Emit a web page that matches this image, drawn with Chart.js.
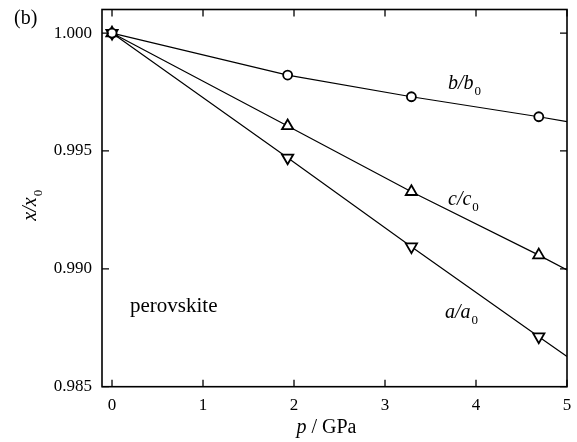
<!DOCTYPE html>
<html>
<head>
<meta charset="utf-8">
<script src="https://cdn.jsdelivr.net/npm/chart.js@4/dist/chart.umd.min.js"></script>
<style>
  html, body { margin: 0; padding: 0; background: #fff; }
  #wrap { width: 577px; height: 442px; }
</style>
</head>
<body>
<div id="wrap"><canvas id="latticeChart" width="577" height="442"></canvas></div>
<script>
// pressure values (GPa) of the measured points, last one is the line end
const pressure = [0, 1.93, 3.29, 4.69, 5.0];
// relative lattice parameters
const bRatio = [1.0, 0.99822, 0.99730, 0.99645, 0.99624];
const cRatio = [1.0, 0.99606, 0.99327, 0.99058, 0.98995];
const aRatio = [1.0, 0.99471, 0.99094, 0.98712, 0.98628];
const xTicks = [0, 1, 2, 3, 4, 5];
const yTicks = [0.985, 0.990, 0.995, 1.000];

const serif = "'Liberation Serif', 'DejaVu Serif', serif";

const toPoints = (vals) => pressure.map((p, i) => ({ x: p, y: vals[i] }));
// the last entry is only where the line stops, no marker there
const radii = (r) => pressure.map((p, i) => (i === pressure.length - 1 ? 0 : r));

const makeSet = (label, vals, style, r, rot) => ({
    label,
    data: toPoints(vals),
    borderColor: '#000',
    borderWidth: 1.2,
    pointStyle: style,
    pointRadius: radii(r),
    pointRotation: rot,
    pointBackgroundColor: '#fff',
    pointBorderColor: '#000',
    pointBorderWidth: 1.8,
    tension: 0
});

// draws frame, inward ticks and the text labels
const framePlugin = {
    id: 'frame',
    afterDraw(chart) {
        const { ctx, chartArea: a, scales } = chart;
        const xs = scales.x, ys = scales.y;
        const tl = 7;
        ctx.save();
        ctx.strokeStyle = '#000';
        ctx.lineWidth = 1.6;
        ctx.strokeRect(a.left, a.top, a.right - a.left, a.bottom - a.top);
        ctx.lineWidth = 1.3;
        ctx.beginPath();
        xTicks.forEach(t => {
            const px = xs.getPixelForValue(t);
            ctx.moveTo(px, a.bottom); ctx.lineTo(px, a.bottom - tl);
            ctx.moveTo(px, a.top); ctx.lineTo(px, a.top + tl);
        });
        yTicks.forEach(t => {
            const py = ys.getPixelForValue(t);
            ctx.moveTo(a.left, py); ctx.lineTo(a.left + tl, py);
            ctx.moveTo(a.right, py); ctx.lineTo(a.right - tl, py);
        });
        ctx.stroke();

        ctx.fillStyle = '#000';
        ctx.textBaseline = 'alphabetic';

        // ratio label like "b/b0" with subscript
        const ratioLabel = (x, y, sym, size) => {
            ctx.font = `italic ${size}px ${serif}`;
            const main = `${sym}/${sym}`;
            ctx.textAlign = 'left';
            ctx.fillText(main, x, y);
            const w = ctx.measureText(main).width;
            ctx.font = `${Math.round(size * 0.65)}px ${serif}`;
            ctx.fillText('0', x + w + 1, y + size * 0.3);
        };

        ratioLabel(448, 89, 'b', 20);
        ratioLabel(448, 205, 'c', 20);
        ratioLabel(445, 318, 'a', 20);

        ctx.font = `21px ${serif}`;
        ctx.fillText('perovskite', 130, 312);

        ctx.font = `20px ${serif}`;
        ctx.fillText('(b)', 14, 24);

        // x axis title: italic p, then " / GPa"
        ctx.font = `italic 20px ${serif}`;
        const pw = ctx.measureText('p').width;
        const rest = ' / GPa';
        ctx.font = `20px ${serif}`;
        const rw = ctx.measureText(rest).width;
        const xt = (a.left + a.right) / 2 - (pw + rw) / 2 - 8;
        ctx.font = `italic 20px ${serif}`;
        ctx.fillText('p', xt, 433);
        ctx.font = `20px ${serif}`;
        ctx.fillText(rest, xt + pw, 433);

        // y axis title, rotated
        ctx.translate(36, 205);
        ctx.rotate(-Math.PI / 2);
        ctx.font = `italic 20px ${serif}`;
        const yw = ctx.measureText('x/x').width;
        ctx.fillText('x/x', -(yw + 8) / 2, 0);
        ctx.font = `13px ${serif}`;
        ctx.fillText('0', -(yw + 8) / 2 + yw + 1, 6);
        ctx.restore();
    }
};

const chart = new Chart(document.getElementById('latticeChart'), {
    type: 'line',
    data: {
        datasets: [
            makeSet('b/b0', bRatio, 'circle', 4.5, 0),
            makeSet('c/c0', cRatio, 'triangle', 6.5, 0),
            makeSet('a/a0', aRatio, 'triangle', 6.5, 180)
        ]
    },
    options: {
        responsive: false,
        devicePixelRatio: 1,
        animation: false,
        layout: { padding: { top: 9.5, right: 10, left: 0, bottom: 0 } },
        plugins: {
            legend: { display: false },
            tooltip: { enabled: false }
        },
        scales: {
            x: {
                type: 'linear',
                min: -0.11,
                max: 5,
                afterBuildTicks: (s) => { s.ticks = xTicks.map(v => ({ value: v })); },
                afterFit: (s) => { s.height = 55.3; s.paddingLeft = 0; s.paddingRight = 0; },
                grid: { display: false, drawTicks: false },
                border: { display: false },
                ticks: {
                    padding: 9,
                    color: '#000',
                    font: { family: serif, size: 17 },
                    maxRotation: 0,
                    callback: (v) => String(v)
                }
            },
            y: {
                type: 'linear',
                min: 0.985,
                max: 1.001,
                afterBuildTicks: (s) => { s.ticks = yTicks.map(v => ({ value: v })); },
                afterFit: (s) => { s.width = 102; s.paddingTop = 0; s.paddingBottom = 0; },
                grid: { display: false, drawTicks: false },
                border: { display: false },
                ticks: {
                    padding: 10,
                    color: '#000',
                    font: { family: serif, size: 17 },
                    callback: (v) => v.toFixed(3)
                }
            }
        }
    },
    plugins: [framePlugin]
});
</script>
</body>
</html>
